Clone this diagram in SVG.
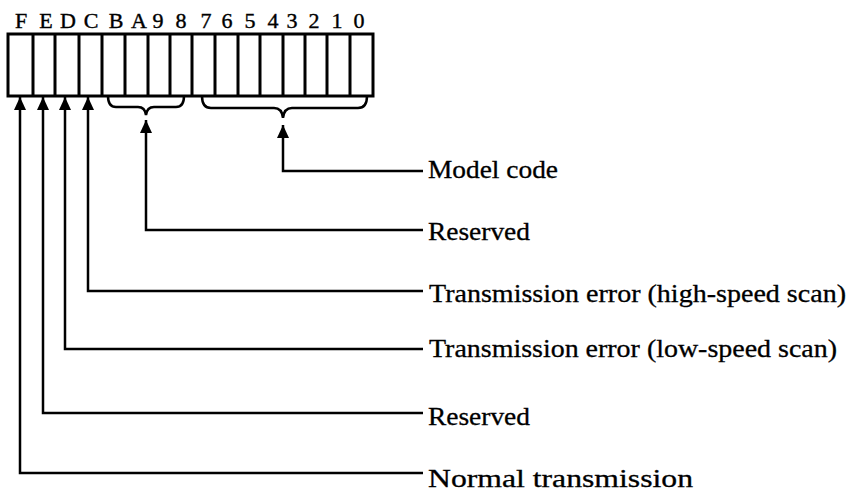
<svg xmlns="http://www.w3.org/2000/svg" width="848" height="493" viewBox="0 0 848 493">
<defs>
<style>
.bits{font-size:22px;fill:#000;stroke:#000;stroke-width:0.4;text-anchor:middle}
.lbl{font-size:25px;fill:#000;stroke:#000;stroke-width:0.3}
.reg{fill:#fff;stroke:#000;stroke-width:3}
.div{stroke:#000;stroke-width:3}
.con{fill:none;stroke:#000;stroke-width:2.5}
</style>
<marker id="arr" markerUnits="userSpaceOnUse" markerWidth="13" markerHeight="12" viewBox="0 0 13 12" refX="13" refY="6" orient="auto">
<path d="M0,0 L13,6 L0,12 z" fill="#000"/>
</marker>
</defs>
<rect width="848" height="493" fill="#fff"/>
<g id="register" font-family="Liberation Serif, Times New Roman, serif">
<rect class="reg" x="8" y="34" width="365" height="62"/>
<path class="div" d="M33,34V96M55,34V96M79,34V96M102,34V96M125,34V96M148,34V96M170,34V96M192,34V96M215,34V96M238,34V96M260,34V96M283,34V96M305,34V96M327,34V96M350,34V96"/>
<text class="bits" y="28"><tspan x="21">F</tspan><tspan x="46">E</tspan><tspan x="68">D</tspan><tspan x="91">C</tspan><tspan x="116">B</tspan><tspan x="139">A</tspan><tspan x="158">9</tspan><tspan x="181">8</tspan><tspan x="206">7</tspan><tspan x="227">6</tspan><tspan x="250">5</tspan><tspan x="273">4</tspan><tspan x="292">3</tspan><tspan x="314">2</tspan><tspan x="337">1</tspan><tspan x="359">0</tspan></text>
</g>
<g id="braces">
<path class="con" d="M108,96 Q108,107 116,107 H138 Q145,107 146,115 Q147,107 154,107 H176 Q184,107 184,96"/>
<path class="con" d="M202,96 Q202,108 211,108 H274 Q282,108 283,118 Q284,108 292,108 H358 Q367,108 367,96"/>
</g>
<g id="connectors">
<path class="con" d="M423,171 H283 V125" marker-end="url(#arr)"/>
<path class="con" d="M423,230 H146 V120" marker-end="url(#arr)"/>
<path class="con" d="M423,291 H88 V97" marker-end="url(#arr)"/>
<path class="con" d="M423,349 H65 V97" marker-end="url(#arr)"/>
<path class="con" d="M423,413 H43 V97" marker-end="url(#arr)"/>
<path class="con" d="M423,473 H20 V97" marker-end="url(#arr)"/>
</g>
<g id="labels" font-family="Liberation Serif, Times New Roman, serif">
<g id="label-model"><text class="lbl" x="428" y="178" textLength="130" lengthAdjust="spacingAndGlyphs">Model code</text></g>
<g id="label-reserved1"><text class="lbl" x="428" y="240" textLength="102" lengthAdjust="spacingAndGlyphs">Reserved</text></g>
<g id="label-high"><text class="lbl" x="429" y="302" textLength="417" lengthAdjust="spacingAndGlyphs">Transmission error (high-speed scan)</text></g>
<g id="label-low"><text class="lbl" x="429" y="357" textLength="408" lengthAdjust="spacingAndGlyphs">Transmission error (low-speed scan)</text></g>
<g id="label-reserved2"><text class="lbl" x="428" y="425" textLength="102" lengthAdjust="spacingAndGlyphs">Reserved</text></g>
<g id="label-normal"><text class="lbl" x="428" y="487" textLength="265" lengthAdjust="spacingAndGlyphs">Normal transmission</text></g>
</g>
</svg>
